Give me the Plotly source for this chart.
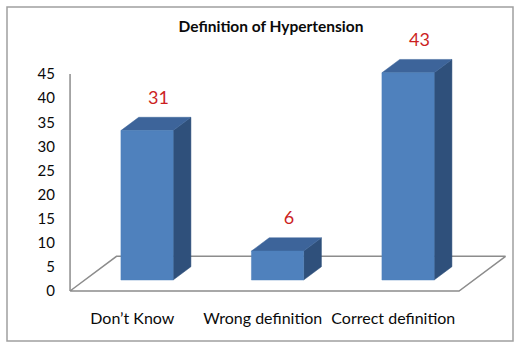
import plotly.graph_objects as go

# ---- data ----
categories = ["Don\u2019t Know", "Wrong definition", "Correct definition"]
values = [31, 6, 43]
value_labels = ["31", "6", "43"]
y_tick_values = [0, 5, 10, 15, 20, 25, 30, 35, 40, 45]
title_text = "Definition of Hypertension"

# ---- 3D projection geometry (in axis units) ----
BAR_W = 0.4
DEPTH_DX = 0.356      # x shift for full floor depth
DEPTH_DY = 7.2        # y shift for full floor depth
BAR_D0, BAR_D1 = 0.317, 0.70
FLOOR_X = (-0.477, 2.504)
AXIS_MAX = 45
LABEL_DX, LABEL_DY = 0.2, 8.8

FRONT = "#4F81BD"
TOP = "#3D649A"
SIDE = "#2F507B"
LINE = "#8C8C8C"
RED = "#CC1F1F"
TEXT = "#0A0A0A"

# pixel layout of plotting area
W, H = 529, 352
ML, MR, MT, MB = 60, 18, 40, 52
PX_PER_X = 130.5
X_ORIGIN_PX = 132.3
PX_PER_Y = 4.82
Y_ZERO_PX = 291
plot_w = W - ML - MR
plot_h = H - MT - MB
x_min = (ML - X_ORIGIN_PX) / PX_PER_X
x_max = x_min + plot_w / PX_PER_X
y_min = -((H - MB) - Y_ZERO_PX) / PX_PER_Y
y_max = y_min + plot_h / PX_PER_Y


def proj(x, y, d):
    return x + d * DEPTH_DX, y + d * DEPTH_DY


def poly(points):
    xs = [p[0] for p in points] + [points[0][0]]
    ys = [p[1] for p in points] + [points[0][1]]
    return xs, ys


fig = go.Figure()

# floor
fl = [proj(FLOOR_X[0], 0, 0), proj(FLOOR_X[1], 0, 0),
      proj(FLOOR_X[1], 0, 1), proj(FLOOR_X[0], 0, 1)]
fx, fy = poly(fl)
fig.add_trace(go.Scatter(x=fx, y=fy, mode="lines", line=dict(color=LINE, width=1.5),
                         hoverinfo="skip", showlegend=False))
# value axis line
fig.add_trace(go.Scatter(x=[FLOOR_X[0], FLOOR_X[0]], y=[0, AXIS_MAX], mode="lines",
                         line=dict(color=LINE, width=1.5), hoverinfo="skip", showlegend=False))

for i, v in enumerate(values):
    x0, x1 = i - BAR_W / 2, i + BAR_W / 2
    faces = [
        (SIDE, [proj(x1, 0, BAR_D0), proj(x1, 0, BAR_D1), proj(x1, v, BAR_D1), proj(x1, v, BAR_D0)]),
        (TOP, [proj(x0, v, BAR_D0), proj(x1, v, BAR_D0), proj(x1, v, BAR_D1), proj(x0, v, BAR_D1)]),
        (FRONT, [proj(x0, 0, BAR_D0), proj(x1, 0, BAR_D0), proj(x1, v, BAR_D0), proj(x0, v, BAR_D0)]),
    ]
    for color, pts in faces:
        xs, ys = poly(pts)
        fig.add_trace(go.Scatter(x=xs, y=ys, mode="lines", fill="toself", fillcolor=color,
                                 line=dict(color=color, width=0.5), hoverinfo="skip",
                                 showlegend=False))

fig.add_trace(go.Scatter(x=[i + LABEL_DX for i in range(len(values))],
                         y=[v + LABEL_DY for v in values],
                         text=value_labels, mode="text", textposition="middle center",
                         textfont=dict(family="Lato", size=18, color=RED),
                         cliponaxis=False, hoverinfo="skip", showlegend=False))

fig.update_layout(
    width=W, height=H,
    margin=dict(l=ML, r=MR, t=MT, b=MB),
    paper_bgcolor="white", plot_bgcolor="white",
    title=dict(text="<b>" + title_text + "</b>", x=271 / W, y=1 - 27 / H,
               xanchor="center", yanchor="middle", xref="container", yref="container",
               font=dict(family="Lato", size=15.5, color=TEXT)),
    xaxis=dict(range=[x_min, x_max], tickvals=list(range(len(categories))), ticktext=categories,
               showgrid=False, zeroline=False, showline=False, ticks="",
               ticklabelstandoff=7,
               tickfont=dict(family="Lato", size=16, color=TEXT)),
    yaxis=dict(range=[y_min, y_max], tickvals=y_tick_values, showgrid=False, zeroline=False,
               showline=False, ticks="", ticklabelstandoff=4,
               tickfont=dict(family="Lato", size=15, color=TEXT)),
    shapes=[dict(type="rect", xref="paper", yref="paper",
                 x0=(7 - ML) / plot_w, x1=(513 - ML) / plot_w,
                 y0=((H - MB) - 341) / plot_h, y1=((H - MB) - 7) / plot_h,
                 line=dict(color="#A0A0A0", width=1.5), layer="below")],
)

fig.write_html("out.html", config={"displayModeBar": False},
               post_script="document.body.style.margin='0px';")
